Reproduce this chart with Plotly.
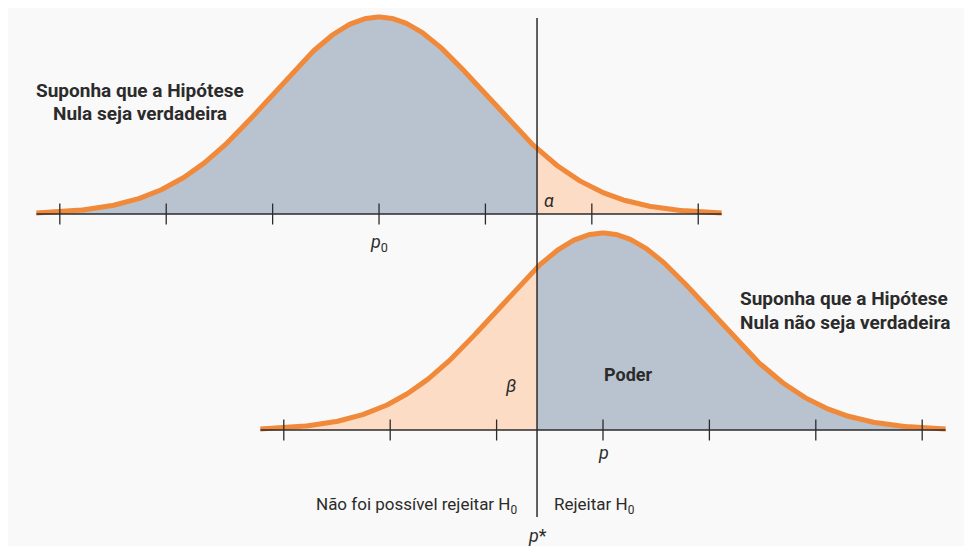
import numpy as np
import plotly.graph_objects as go

# ---- data (standardized units: sigma = 1, null mean p0 = 0) ----
p0 = 0.0            # mean under the null hypothesis
p1 = 2.105          # mean under the alternative
p_star = 1.485      # critical value p*
sigma = 1.0
tick_steps = [-3, -2, -1, 0, 1, 2, 3]
curve_halfwidth = 3.22
top_base = 0.0
bottom_base = -0.4374

GRAY = "#b9c3cf"
PEACH = "#fddcc5"
ORANGE = "#f0893a"
INK = "#2b2b2b"
FONT = "Roboto, Liberation Sans, Arial"


def pdf(x, mu):
    return np.exp(-0.5 * ((x - mu) / sigma) ** 2) / (sigma * np.sqrt(2 * np.pi))


def region(mu, base, a, b, color):
    xs = np.linspace(a, b, 200)
    ys = base + pdf(xs, mu)
    px = np.concatenate([xs, [b, a]])
    py = np.concatenate([ys, [base, base]])
    return go.Scatter(x=px, y=py, mode="lines", fill="toself", fillcolor=color,
                      line=dict(width=0), hoverinfo="skip", showlegend=False)


fig = go.Figure()

for mu, base, left_col, right_col in [(p0, top_base, GRAY, PEACH),
                                      (p1, bottom_base, PEACH, GRAY)]:
    lo, hi = mu - curve_halfwidth, mu + curve_halfwidth
    fig.add_trace(region(mu, base, lo, p_star, left_col))
    fig.add_trace(region(mu, base, p_star, hi, right_col))
    xs = np.linspace(lo, hi, 400)
    fig.add_trace(go.Scatter(x=xs, y=base + pdf(xs, mu), mode="lines",
                             line=dict(color=ORANGE, width=5),
                             hoverinfo="skip", showlegend=False))
    fig.add_trace(go.Scatter(x=[lo, hi], y=[base, base], mode="lines",
                             line=dict(color=INK, width=1.5),
                             hoverinfo="skip", showlegend=False))
    tx = [mu + k * sigma for k in tick_steps]
    fig.add_trace(go.Scatter(x=tx, y=[base] * len(tx), mode="markers",
                             marker=dict(symbol="line-ns-open", size=15, color=INK,
                                         line=dict(color=INK, width=1.3)),
                             hoverinfo="skip", showlegend=False))

# critical value line
fig.add_trace(go.Scatter(x=[p_star, p_star], y=[0.397, -0.6136], mode="lines",
                         line=dict(color=INK, width=1.5),
                         hoverinfo="skip", showlegend=False))


def note(text, x, y, size=18, bold=False, xanchor="center", xshift=0, yshift=0):
    if bold:
        text = "<b>" + text + "</b>"
    fig.add_annotation(x=x, y=y, text=text, showarrow=False, xanchor=xanchor,
                       yanchor="middle", xshift=xshift, yshift=yshift,
                       font=dict(family=FONT, size=size, color=INK))


note("<i>p</i><sub>0</sub>", p0, top_base, yshift=-29)
note("<i>p</i>", p1, bottom_base, yshift=-22)
note("<i>α</i>", p_star, top_base, xshift=12, yshift=14, size=18)
note("<i>β</i>", p_star, bottom_base, xshift=-27, yshift=45, size=18)
note("Poder", 2.34, bottom_base, bold=True, yshift=56, size=18)

note("Suponha que a Hipótese", -2.246, top_base, bold=True, size=19, yshift=124)
note("Nula seja verdadeira", -2.246, top_base, bold=True, size=19, yshift=101)
note("Suponha que a Hipótese", 3.374, bottom_base, bold=True, size=19,
     xanchor="left", yshift=132)
note("Nula não seja verdadeira", 3.374, bottom_base, bold=True, size=19,
     xanchor="left", yshift=108)

note("Não foi possível rejeitar H<sub>0</sub>", p_star, bottom_base, size=17,
     xanchor="right", xshift=-18, yshift=-75)
note("Rejeitar H<sub>0</sub>", p_star, bottom_base, size=17,
     xanchor="left", xshift=15, yshift=-75)
note("<i>p</i>*", p_star, bottom_base, size=18, yshift=-105)

fig.update_layout(
    width=964, height=538,
    margin=dict(l=0, r=0, t=0, b=0),
    paper_bgcolor="#f9f9f9", plot_bgcolor="#f9f9f9",
    xaxis=dict(range=[-3.487, 5.573], visible=False, fixedrange=True),
    yaxis=dict(range=[-0.6723, 0.4172], visible=False, fixedrange=True),
    showlegend=False,
)

fig.write_html("out.html")
